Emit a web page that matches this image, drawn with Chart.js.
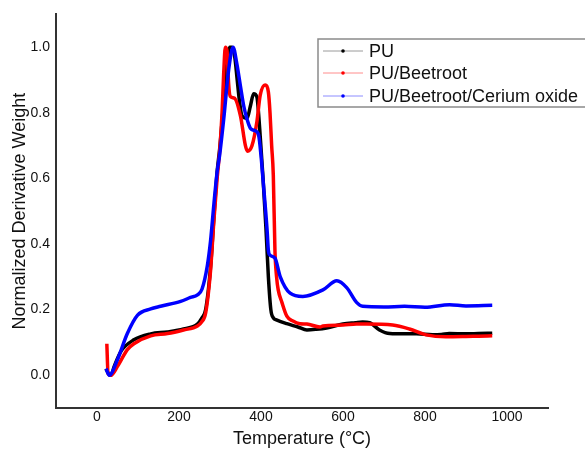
<!DOCTYPE html>
<html>
<head>
<meta charset="utf-8">
<script src="https://cdn.jsdelivr.net/npm/chart.js@4/dist/chart.umd.min.js"></script>
<style>
html,body{margin:0;padding:0;background:#fff;}
#wrap{width:585px;height:450px;}
</style>
</head>
<body>
<div id="wrap"><canvas id="c" width="585" height="450"></canvas></div>
<script>
// ---- data ----
const seriesLabels = ["PU", "PU/Beetroot", "PU/Beetroot/Cerium oxide"];

const puT = [22,28,34,42,58,90,131,172,211,245,256,265,277,285,293,300,310,318,324,330,336,342,348,354,366,374,382,390,394,398,405,412,418,424,430,439,463,490,512,535,560,600,630,648,665,689,714,750,779,818,840,859,900,930,964];
const puY = [0.02,0.005,0.0,0.027,0.072,0.108,0.126,0.132,0.141,0.156,0.175,0.20,0.33,0.48,0.62,0.70,0.85,0.96,1.0,1.0,0.97,0.90,0.83,0.79,0.783,0.82,0.858,0.848,0.80,0.73,0.60,0.45,0.30,0.20,0.175,0.168,0.157,0.147,0.138,0.140,0.144,0.156,0.160,0.162,0.160,0.138,0.127,0.126,0.126,0.123,0.124,0.127,0.126,0.127,0.128];

const pbT = [24,27,34,50,74,90,131,172,211,245,255,265,277,285,293,299,305,309,313,317,321,325,335,350,362,367,378,390,398,410,418,422,426,430,434,438,442,451,463,478,495,512,544,551,600,633,657,721,762,803,851,900,930,964];
const pbY = [0.096,0.005,0.0,0.027,0.078,0.096,0.120,0.127,0.138,0.150,0.162,0.19,0.32,0.47,0.60,0.68,0.80,0.92,1.0,0.99,0.89,0.85,0.845,0.79,0.70,0.683,0.70,0.773,0.853,0.885,0.863,0.80,0.70,0.61,0.38,0.30,0.26,0.222,0.18,0.165,0.157,0.156,0.147,0.150,0.153,0.156,0.156,0.153,0.141,0.123,0.117,0.118,0.119,0.120];

const pbcT = [22,30,50,74,99,131,155,204,228,245,256,269,277,285,293,299,309,321,332,341,350,358,366,374,386,394,400,404,415,418,422,434,447,471,502,551,585,609,633,648,700,750,800,860,900,964];
const pbcY = [0.02,0.0,0.048,0.127,0.183,0.202,0.21,0.225,0.237,0.245,0.262,0.333,0.41,0.52,0.62,0.67,0.78,0.93,1.0,0.95,0.88,0.82,0.78,0.753,0.745,0.733,0.67,0.61,0.44,0.38,0.366,0.357,0.30,0.25,0.24,0.26,0.288,0.267,0.222,0.21,0.208,0.21,0.207,0.215,0.211,0.213];

const xTicks = [0,200,400,600,800,1000];
const yTicks = [0.0,0.2,0.4,0.6,0.8,1.0];

const lineColors = ["#000000", "#ff0000", "#0000ff"];
const sampleColors = ["#9a9a9a", "#ff8c8c", "#8c8cff"];

function pts(t, v){ return t.map((x,i)=>({x:x, y:v[i]})); }

const legendPlugin = {
  id: 'insideLegend',
  afterDraw(chart){
    const ctx = chart.ctx;
    ctx.save();
    ctx.strokeStyle = '#8a8a8a';
    ctx.lineWidth = 1.5;
    ctx.strokeRect(318, 39, 300, 68);
    ctx.font = '18px "Liberation Sans", Arial, sans-serif';
    ctx.textBaseline = 'middle';
    ctx.textAlign = 'left';
    const rows = [51, 73, 96];
    chart.data.datasets.forEach((ds, i) => {
      const y = rows[i];
      ctx.strokeStyle = sampleColors[i];
      ctx.lineWidth = 1;
      ctx.beginPath(); ctx.moveTo(323, y); ctx.lineTo(363, y); ctx.stroke();
      ctx.fillStyle = lineColors[i];
      ctx.beginPath(); ctx.arc(343, y, 1.8, 0, Math.PI*2); ctx.fill();
      ctx.fillStyle = '#111';
      ctx.fillText(ds.label, 369, y + 1);
    });
    ctx.restore();
  }
};

const ds = [
  {label: seriesLabels[0], data: pts(puT, puY), borderColor: lineColors[0], order: 2},
  {label: seriesLabels[1], data: pts(pbT, pbY), borderColor: lineColors[1], order: 1},
  {label: seriesLabels[2], data: pts(pbcT, pbcY), borderColor: lineColors[2], order: 0}
].map(d => Object.assign(d, {borderWidth: 3.5, pointRadius: 0, fill: false, cubicInterpolationMode: 'monotone'}));

new Chart(document.getElementById('c'), {
  type: 'line',
  data: { datasets: ds },
  plugins: [legendPlugin],
  options: {
    responsive: false,
    animation: false,
    layout: { padding: { top: 8, right: 37, left: 0, bottom: 0 } },
    plugins: { legend: { display: false }, tooltip: { enabled: false } },
    scales: {
      x: {
        type: 'linear', min: -100, max: 1100,
        afterBuildTicks: s => { s.ticks = xTicks.map(v => ({value: v})); },
        afterFit: s => { s.height = 42; },
        grid: { display: false, drawTicks: false },
        border: { display: true, color: '#333', width: 2 },
        ticks: { padding: 1, color: '#111', font: { size: 14, family: '"Liberation Sans", Arial, sans-serif' }, callback: v => String(v) },
        title: { display: true, text: 'Temperature (°C)', color: '#111', padding: {top: 0, bottom: 0}, font: { size: 18, family: '"Liberation Sans", Arial, sans-serif' } }
      },
      y: {
        type: 'linear', min: -0.1, max: 1.1,
        afterBuildTicks: s => { s.ticks = yTicks.map(v => ({value: v})); },
        afterFit: s => { s.width = 56; },
        grid: { display: false, drawTicks: false },
        border: { display: true, color: '#333', width: 2 },
        ticks: { padding: 6, color: '#111', font: { size: 14, family: '"Liberation Sans", Arial, sans-serif' }, callback: v => Number(v).toFixed(1) },
        title: { display: true, text: 'Normalized Derivative Weight', color: '#111', padding: {top: 9, bottom: 0}, font: { size: 18, family: '"Liberation Sans", Arial, sans-serif' } }
      }
    }
  }
});
</script>
</body>
</html>
